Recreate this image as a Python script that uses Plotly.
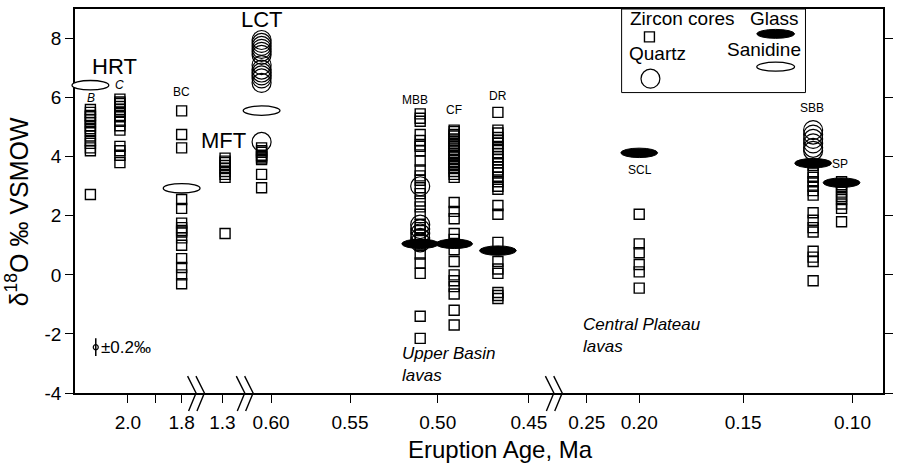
import numpy as np
import plotly.graph_objects as go

# ---------------- data ----------------
GROUP_NAMES = ["HRT-B", "HRT-C", "BC", "MFT", "LCT", "MBB", "CF", "DR", "SCL", "SBB", "SP"]
GROUP_AGE = [2.14, 2.03, 1.80, 1.29, 0.606, 0.510, 0.491, 0.467, 0.200, 0.118, 0.105]

ZRC_HRT_B = [5.6, 5.5, 5.4, 5.35, 5.25, 5.15, 5.05, 4.95, 4.85, 4.7, 4.55, 4.45, 4.3, 4.2, 2.72]
ZRC_HRT_C = [5.95, 5.85, 5.8, 5.7, 5.6, 5.5, 5.4, 5.35, 5.2, 5.05, 4.9, 4.35, 4.2, 4.05, 3.8]
ZRC_BC = [5.55, 4.75, 4.3, 2.55, 2.25, 1.75, 1.6, 1.5, 1.45, 1.25, 1.0, 0.55, 0.25, 0.0, -0.3]
ZRC_MFT = [3.95, 3.85, 3.8, 3.7, 3.6, 3.5, 3.4, 3.3, 1.4]
ZRC_LCT = [4.3, 4.2, 4.15, 4.05, 4.0, 3.95, 3.9, 3.4, 2.95]
ZRC_MBB = [5.45, 5.3, 5.2, 4.75, 4.55, 4.4, 4.35, 4.2, 3.85, 3.55, 3.35, 3.2, 2.95, 2.75,
           2.5, 2.3, 2.05, 1.7, 1.6, 1.5, 1.35, 1.2, 1.0, 0.7, 0.4, 0.05, -1.4, -2.15]
ZRC_CF = [4.9, 4.85, 4.75, 4.7, 4.6, 4.5, 4.45, 4.35, 4.3, 4.2, 4.1, 4.05, 4.0, 3.9, 3.8,
          3.75, 3.7, 3.6, 3.5, 3.4, 3.3, 2.45, 2.15, 1.9, 1.4, 1.2, 0.85, 0.45, 0.0, -0.2,
          -0.4, -0.65, -1.2, -1.7]
ZRC_DR = [5.5, 4.9, 4.8, 4.65, 4.55, 4.45, 4.35, 4.25, 4.1, 4.0, 3.9, 3.8, 3.65, 3.55, 3.45,
          3.3, 3.15, 3.0, 2.9, 2.35, 2.05, 1.1, 0.45, 0.2, 0.05, -0.6, -0.7, -0.8]
ZRC_SCL = [2.05, 1.05, 0.75, 0.35, 0.1, -0.45]
ZRC_SBB = [3.7, 3.45, 3.3, 3.15, 3.0, 2.85, 2.7, 2.1, 1.85, 1.6, 1.45, 0.8, 0.6, 0.45, -0.2]
ZRC_SP = [3.15, 3.05, 2.95, 2.8, 2.65, 2.55, 2.4, 2.25, 1.8]
ZIRCON = {"HRT-B": ZRC_HRT_B, "HRT-C": ZRC_HRT_C, "BC": ZRC_BC, "MFT": ZRC_MFT, "LCT": ZRC_LCT,
          "MBB": ZRC_MBB, "CF": ZRC_CF, "DR": ZRC_DR, "SCL": ZRC_SCL, "SBB": ZRC_SBB, "SP": ZRC_SP}

QTZ_LCT = [7.95, 7.85, 7.75, 7.65, 7.55, 7.45, 7.1, 6.95, 6.85, 6.75, 6.65, 6.5, 4.5]
QTZ_MBB = [3.0, 1.7, 1.55, 1.4, 1.25, 1.1]
QTZ_SBB = [4.9, 4.75, 4.6, 4.45, 4.3, 4.2]
QUARTZ = {"LCT": QTZ_LCT, "MBB": QTZ_MBB, "SBB": QTZ_SBB}

GLASS_GROUPS = ["MBB", "CF", "DR", "SCL", "SBB", "SP"]
GLASS_D18O = [1.05, 1.05, 0.82, 4.13, 3.78, 3.12]
SAN_GROUPS = ["HRT-B", "BC", "LCT"]
SAN_D18O = [6.42, 2.93, 5.56]

ERR_AGE, ERR_VAL, ERR_SIZE = 2.12, -2.45, 0.3

X_TICK_AGES = [2.0, 1.8, 1.3, 0.60, 0.55, 0.50, 0.45, 0.25, 0.20, 0.15, 0.10]
X_TICK_LABELS = ["2.0", "1.8", "1.3", "0.60", "0.55", "0.50", "0.45", "0.25", "0.20", "0.15", "0.10"]
X_MINOR_AGES = [1.9]
Y_TICKS = [-4, -2, 0, 2, 4, 6, 8]
Y_TICK_LABELS = ["-4", "-2", "0", "2", "4", "6", "8"]

# ---------------- broken age axis (piecewise scale) ----------------
X_ANCHOR_AGE = [2.25, 2.0, 1.9, 1.8, 1.731, 1.383, 1.3, 1.201, 0.614, 0.60, 0.55, 0.50, 0.45,
                0.434, 0.2775, 0.25, 0.20, 0.15, 0.10, 0.06]
X_ANCHOR_U = [-14.2, 53.3, 80.7, 107.3, 126, 126, 148.3, 175, 175, 197.3, 276.7, 365, 456.7,
              486, 486, 515, 567.7, 672.3, 782.3, 870.3]


def to_u(age):
    return np.interp(-np.asarray(age, dtype=float), -np.array(X_ANCHOR_AGE), X_ANCHOR_U)


# ---------------- layout geometry ----------------
W, H = 900, 474
ML, MR, MT, MB = 75, 12, 7, 81
PW, PH = W - ML - MR, H - MT - MB
Y_RANGE = [-4, 9]
FONT = "Liberation Sans, Arial, Helvetica, sans-serif"
ELL_W, ELL_H = 37, 9.5  # px


def xp(px):
    return (px - ML) / PW


def yp(py):
    return (H - MB - py) / PH


def ux(u):  # x-axis value -> paper
    return u / PW


def vy(v):  # y-axis value -> paper
    return (v - Y_RANGE[0]) / (Y_RANGE[1] - Y_RANGE[0])


age_of = dict(zip(GROUP_NAMES, GROUP_AGE))
fig = go.Figure()

# zircon squares
zx, zy = [], []
for g in GROUP_NAMES:
    zx += [float(to_u(age_of[g]))] * len(ZIRCON[g])
    zy += ZIRCON[g]
fig.add_trace(go.Scatter(x=zx, y=zy, mode="markers", showlegend=False, hoverinfo="skip",
                         marker=dict(symbol="square-open", size=10, color="black",
                                     line=dict(width=1.4, color="black"))))
# quartz circles
qx, qy = [], []
for g, vals in QUARTZ.items():
    qx += [float(to_u(age_of[g]))] * len(vals)
    qy += vals
fig.add_trace(go.Scatter(x=qx, y=qy, mode="markers", showlegend=False, hoverinfo="skip",
                         marker=dict(symbol="circle-open", size=19, color="black",
                                     line=dict(width=1.2, color="black"))))
# analytical error
fig.add_trace(go.Scatter(x=[float(to_u(ERR_AGE))], y=[ERR_VAL], mode="markers", showlegend=False,
                         hoverinfo="skip",
                         marker=dict(symbol="circle-open", size=5, color="black", line=dict(width=1.2)),
                         error_y=dict(type="constant", value=ERR_SIZE, width=0, thickness=1.5, color="black")))

shapes = []
hw = ELL_W / PW / 2
hh = ELL_H / PH / 2
for g, v in zip(GLASS_GROUPS, GLASS_D18O):
    cx, cy = ux(float(to_u(age_of[g]))), vy(v)
    shapes.append(dict(type="circle", xref="paper", yref="paper", x0=cx - hw, x1=cx + hw,
                       y0=cy - hh, y1=cy + hh, fillcolor="black", line=dict(color="black", width=1),
                       layer="below"))
for g, v in zip(SAN_GROUPS, SAN_D18O):
    cx, cy = ux(float(to_u(age_of[g]))), vy(v)
    shapes.append(dict(type="circle", xref="paper", yref="paper", x0=cx - hw, x1=cx + hw,
                       y0=cy - hh, y1=cy + hh, fillcolor="white", line=dict(color="black", width=1.3)))

# axis-break symbols
for i in range(len(X_ANCHOR_U) - 1):
    if X_ANCHOR_U[i] == X_ANCHOR_U[i + 1]:
        bc = X_ANCHOR_U[i] + ML
        for dx in (-4.2, 4.2):
            vx = bc + dx
            path = (f"M {xp(vx - 8.5)} {yp(H - MB - 17)} L {xp(vx)} {yp(H - MB)} "
                    f"L {xp(vx - 7.5)} {yp(H - MB + 18)}")
            shapes.append(dict(type="path", xref="paper", yref="paper", path=path,
                               line=dict(color="black", width=1.4)))

# legend box
shapes.append(dict(type="rect", xref="paper", yref="paper", x0=xp(625), x1=xp(810), y0=yp(91), y1=yp(7),
                   line=dict(color="black", width=1), fillcolor="rgba(0,0,0,0)"))
shapes.append(dict(type="rect", xref="paper", yref="paper", x0=xp(648), x1=xp(658), y0=yp(40), y1=yp(30),
                   line=dict(color="black", width=1.4)))
shapes.append(dict(type="circle", xref="paper", yref="paper", x0=xp(644.5), x1=xp(663.5), y0=yp(86.5),
                   y1=yp(67.5), line=dict(color="black", width=1.2)))
shapes.append(dict(type="circle", xref="paper", yref="paper", x0=xp(761), x1=xp(799), y0=yp(36.5),
                   y1=yp(27.5), fillcolor="black", line=dict(color="black", width=1)))
shapes.append(dict(type="circle", xref="paper", yref="paper", x0=xp(761), x1=xp(799), y0=yp(69.5),
                   y1=yp(60.5), fillcolor="white", line=dict(color="black", width=1.3)))

ann = []


def label(text, px, py, size, italic=False, anchor="center"):
    ann.append(dict(text=f"<i>{text}</i>" if italic else text, x=xp(px), y=yp(py), xref="paper",
                    yref="paper", showarrow=False, xanchor=anchor, yanchor="middle", align=anchor,
                    font=dict(family=FONT, size=size, color="black")))


label("HRT", 115, 65, 22)
label("B", 91, 96, 12, True)
label("C", 120, 83, 12, True)
label("BC", 182, 90, 12)
label("MFT", 224, 139, 22)
label("LCT", 263, 18, 22)
label("MBB", 417, 98, 12)
label("CF", 456, 109, 12)
label("DR", 501, 94, 12)
label("SCL", 643, 169, 12)
label("SBB", 817, 107, 12)
label("SP", 845, 163, 12)
label("Upper Basin<br>lavas", 402, 364, 17, True, "left")
label("Central Plateau<br>lavas", 584, 335, 17, True, "left")
label("±0.2‰", 99, 347, 17, False, "left")
label("Zircon cores", 686, 17, 19)
label("Quartz", 661, 52, 19)
label("Glass", 779, 17, 19)
label("Sanidine", 768, 48, 19)
label("Eruption Age, Ma", 503, 450, 24)
ann.append(dict(text="δ<sup>18</sup>O ‰ VSMOW", x=xp(17), y=yp(211), xref="paper", yref="paper",
                showarrow=False, textangle=-90, xanchor="center", yanchor="middle",
                font=dict(family=FONT, size=25, color="black")))

fig.update_layout(
    width=W, height=H, margin=dict(l=ML, r=MR, t=MT, b=MB, pad=0),
    plot_bgcolor="white", paper_bgcolor="white", showlegend=False,
    shapes=shapes, annotations=ann,
    xaxis=dict(range=[0, PW], tickmode="array", tickvals=[float(v) for v in to_u(X_TICK_AGES)],
               ticktext=X_TICK_LABELS, ticklabelstandoff=3,
               ticks="outside", ticklen=8, tickwidth=1.4, tickcolor="black", showline=True,
               linecolor="black", linewidth=1.5, mirror=True, showgrid=False, zeroline=False,
               tickfont=dict(family=FONT, size=19, color="black"),
               minor=dict(tickmode="array", tickvals=[float(v) for v in to_u(X_MINOR_AGES)],
                          ticks="outside", ticklen=8, tickwidth=1.4, tickcolor="black", showgrid=False)),
    yaxis=dict(range=Y_RANGE, tickvals=Y_TICKS, ticktext=Y_TICK_LABELS, ticks="outside", ticklen=8,
               tickwidth=1.4, tickcolor="black", showline=True, linecolor="black", linewidth=1.5,
               mirror="ticks", showgrid=False, zeroline=False,
               tickfont=dict(family=FONT, size=19, color="black")),
)

fig.write_html("out.html", config={"displayModeBar": False},
               post_script="document.body.style.margin='0';document.body.style.overflow='hidden';")
